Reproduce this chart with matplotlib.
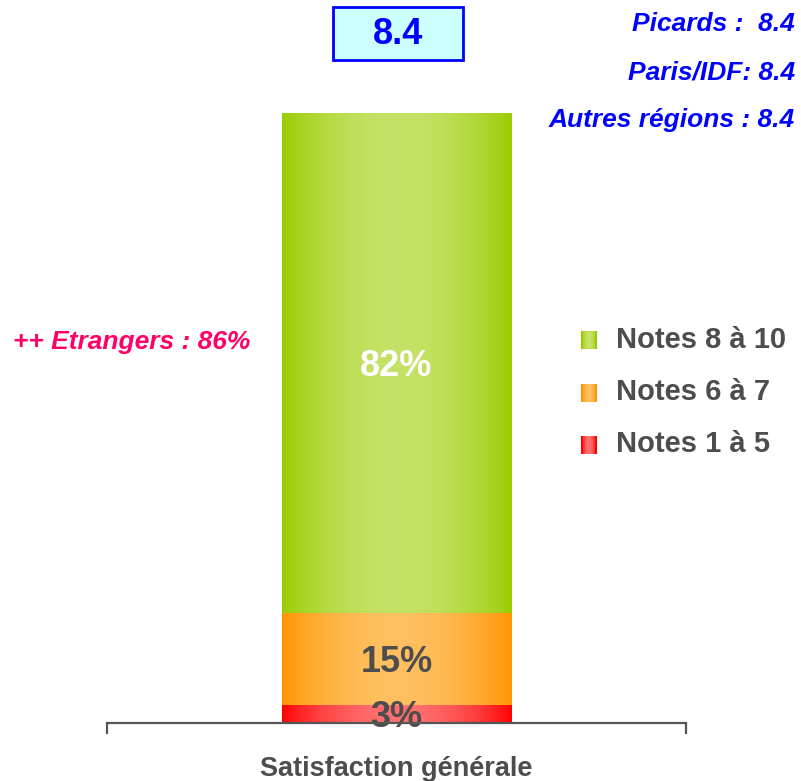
import numpy as np
import matplotlib
matplotlib.use("Agg")
import matplotlib.pyplot as plt
from matplotlib.patches import Rectangle
from matplotlib.legend_handler import HandlerBase
from matplotlib.colors import to_rgb

# data
categories = ["Satisfaction générale"]
series = ["Notes 1 à 5", "Notes 6 à 7", "Notes 8 à 10"]
values = [3, 15, 82]
labels = ["3%", "15%", "82%"]
label_colors = ["#4d4d4d", "#4d4d4d", "white"]
edge_cols = ["#ff0000", "#ff9400", "#99cc00"]
mid_cols = ["#ff7070", "#ffc060", "#c4e266"]
mean_score = "8.4"
sub_scores = ["Picards :  8.4", "Paris/IDF: 8.4", "Autres régions : 8.4"]
note = "++ Etrangers : 86%"

plt.rcParams['font.family'] = ['Liberation Sans', 'DejaVu Sans']

def gradient(c_edge, c_mid, n=200):
    u = np.linspace(0, 1, n)
    t = np.sin(np.pi * u) ** 0.8
    e = np.array(to_rgb(c_edge))
    m = np.array(to_rgb(c_mid))
    return (e[None, :] * (1 - t[:, None]) + m[None, :] * t[:, None])[None, :, :]

class GradHandler(HandlerBase):
    def __init__(self, ce, cm):
        super().__init__()
        self.ce, self.cm = ce, cm
    def create_artists(self, legend, orig, xd, yd, w, h, fontsize, trans):
        g = gradient(self.ce, self.cm, 8)[0]
        arts = []
        for i in range(8):
            arts.append(Rectangle((xd + i * w / 8, yd), w / 8 + 0.3, h,
                                  facecolor=g[i], edgecolor='none', transform=trans))
        return arts

fig = plt.figure(figsize=(8.01, 7.81), dpi=100)
ax = fig.add_axes([107/801, 58/781, 579/801, 610/781])

bottom = 0
for v, ce, cm, lab, lc in zip(values, edge_cols, mid_cols, labels, label_colors):
    b = ax.bar(0, v / 100, width=0.397, bottom=bottom / 100, color='none', edgecolor='none')
    r = b[0]
    x0, y0 = r.get_x(), r.get_y()
    ax.imshow(gradient(ce, cm), extent=(x0, x0 + r.get_width(), y0, y0 + r.get_height()),
              aspect='auto', zorder=2, interpolation='bilinear')
    ax.text(0, (bottom + v / 2) / 100 - 0.006, lab, ha='center', va='center', fontsize=26,
            fontweight='bold', color=lc, zorder=4)
    bottom += v

ax.set_xlim(-0.5, 0.5)
ax.set_ylim(0, 1)
for s in ['top', 'right', 'left']:
    ax.spines[s].set_visible(False)
ax.spines['bottom'].set_color('#555555')
ax.spines['bottom'].set_linewidth(1.6)
ax.spines['bottom'].set_zorder(5)
ax.set_yticks([])
ax.set_xticks([-0.5, 0.5])
ax.set_xticklabels(['', ''])
ax.tick_params(axis='x', length=8, width=1.6, color='#555555', direction='out')
ax.text(0, -0.076, categories[0], transform=ax.transData, ha='center', va='center',
        fontsize=19.5, fontweight='bold', color='#4d4d4d', clip_on=False)

# legend
handles = [Rectangle((0, 0), 1, 1) for _ in series]
order = [2, 1, 0]
leg = fig.legend([handles[i] for i in order], [series[i] for i in order],
                 handler_map={handles[i]: GradHandler(edge_cols[i], mid_cols[i]) for i in range(3)},
                 loc='center left', bbox_to_anchor=(581/801, 1 - 392/781), frameon=False,
                 borderpad=0, borderaxespad=0, handlelength=0.55, handleheight=0.55,
                 handletextpad=0.65, labelspacing=0.84,
                 prop={'weight': 'bold', 'size': 21})
for t in leg.get_texts():
    t.set_color('#4d4d4d')

# mean score box
fig.patches.append(Rectangle((333/801, 1 - 60/781), 130/801, 53/781, transform=fig.transFigure,
                             facecolor='#ccffff', edgecolor='#0000ff', linewidth=2))
fig.text(398/801, 1 - 35/781, mean_score, ha='center', va='center', fontsize=26,
         fontweight='bold', color='#0000ff')

for i, s in enumerate(sub_scores):
    fig.text(795/801, 1 - (24 + i * 48) / 781, s, ha='right', va='center', fontsize=19,
             fontweight='bold', style='italic', color='#0000ff')

fig.text(13/801, 1 - 342/781, note, ha='left', va='center', fontsize=19,
         fontweight='bold', style='italic', color='#ff0066')

fig.savefig('out.png', dpi=100)
